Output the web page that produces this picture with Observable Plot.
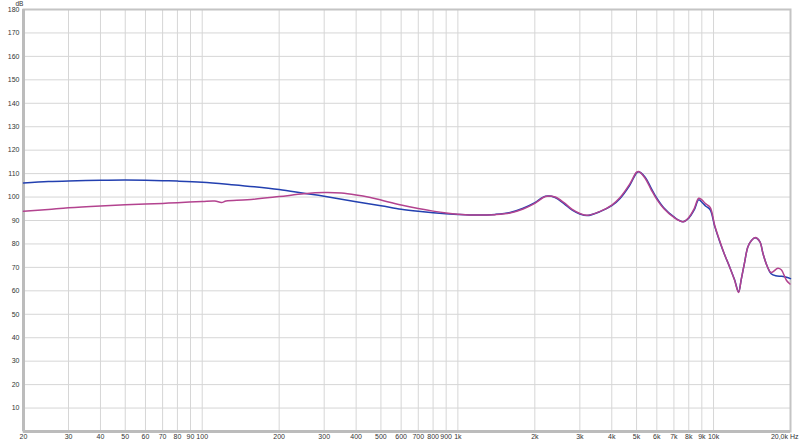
<!DOCTYPE html>
<html>
<head>
<meta charset="utf-8">
<script src="https://cdn.jsdelivr.net/npm/d3@7"></script>
<script src="https://cdn.jsdelivr.net/npm/@observablehq/plot@0.6"></script>
<style>
  html, body { margin: 0; padding: 0; background: #fff; }
  #chart svg { display: block; }
</style>
</head>
<body>
<div id="chart"></div>
<script>
// X ticks (Hz) and their labels
const xTicks = [20,30,40,50,60,70,80,90,100,200,300,400,500,600,700,800,900,1000,2000,3000,4000,5000,6000,7000,8000,9000,10000];
const xTickLabels = ["20","30","40","50","60","70","80","90","100","200","300","400","500","600","700","800","900","1k","2k","3k","4k","5k","6k","7k","8k","9k","10k"];
const xEndTick = [20000];
const xEndLabel = ["20,0k Hz"];
const yTicks = [10,20,30,40,50,60,70,80,90,100,110,120,130,140,150,160,170,180];
const yUnit = ["dB"];

// Blue series
const blueFreq = [20,25,30,40,50,60,70,80,100,130,160,200,250,300,400,500,600,700,800,1000,1200,1400,1600,1800,2000,2200,2400,2600,2800,3000,3200,3600,4000,4300,4700,5000,5100,5400,5700,6000,6400,7000,7600,8000,8400,8750,9000,9300,9700,10100,10560,11040,11550,12080,12530,12830,13200,13620,14070,14570,15170,15620,16200,16800,17500,18500,19300,20000];
const blueDb   = [106.0,106.6,106.9,107.2,107.3,107.2,107.0,106.8,106.3,105.3,104.4,103.2,101.6,100.3,98.0,96.3,94.8,93.9,93.3,92.6,92.3,92.6,93.4,95.2,97.6,100.3,99.8,97.2,94.4,92.8,92.1,93.8,96.3,99.3,105.0,110.3,110.8,108.5,103.8,99.5,95.3,91.5,89.5,91.0,94.5,98.8,97.8,96.2,94.6,87.6,81.2,75.5,70.3,64.8,59.6,64.8,71.6,78.7,81.5,82.6,81.0,75.8,70.6,67.3,66.4,66.2,65.8,65.2];

// Pink series
const pinkFreq = [20,25,30,40,50,60,70,80,100,112,119,124,150,200,250,300,350,400,450,500,600,700,800,900,1000,1200,1400,1600,1800,2000,2200,2400,2600,2800,3000,3200,3600,4000,4300,4700,5000,5100,5400,5700,6000,6400,7000,7600,8000,8400,8750,9000,9300,9700,10100,10560,11040,11550,12080,12530,12830,13200,13620,14070,14570,15170,15620,16200,16800,17850,18400,19300,19900];
const pinkDb   = [93.9,94.7,95.4,96.2,96.7,97.0,97.3,97.6,98.1,98.3,97.7,98.3,98.8,100.2,101.4,101.9,101.7,100.9,99.9,98.7,96.6,95.1,94.0,93.2,92.7,92.3,92.5,93.2,94.9,97.3,100.2,100.0,97.6,94.7,93.0,92.2,93.9,96.6,99.7,105.5,110.6,110.9,108.0,103.2,99.0,95.0,91.3,89.5,91.3,95.0,99.5,98.8,97.2,95.6,88.0,81.5,75.5,70.3,64.6,59.3,64.8,71.6,78.7,81.5,82.7,81.0,75.8,70.6,67.8,69.6,69.0,64.4,62.9];

const blue = blueFreq.map((f, i) => ({f, db: blueDb[i]}));
const pink = pinkFreq.map((f, i) => ({f, db: pinkDb[i]}));

const chart = Plot.plot({
  width: 800,
  height: 443,
  marginLeft: 23,
  marginRight: 10,
  marginTop: 9,
  marginBottom: 12,
  style: {fontFamily: "'Liberation Sans', Arial, sans-serif", fontSize: "7px", color: "#333", background: "#fff"},
  x: {type: "log", domain: [20, 20000], axis: null},
  y: {domain: [0, 180], axis: null},
  marks: [
    Plot.ruleY(yTicks, {stroke: "#d6d6d6", strokeWidth: 1}),
    Plot.ruleX(xTicks, {stroke: "#d6d6d6", strokeWidth: 1}),
    Plot.frame({stroke: "#c4c4c4", strokeWidth: 2}),
    Plot.ruleX([20], {stroke: "#bcbcbc", strokeWidth: 3}),
    Plot.ruleY([0], {stroke: "#bcbcbc", strokeWidth: 3}),
    Plot.line(blue, {x: "f", y: "db", stroke: "#2340b0", strokeWidth: 1.5, curve: "catmull-rom"}),
    Plot.line(pink, {x: "f", y: "db", stroke: "#b3438f", strokeWidth: 1.5, curve: "catmull-rom"}),
    Plot.text(xTicks, {x: d => d, frameAnchor: "bottom", text: (d, i) => xTickLabels[i], dy: 7, fill: "#333"}),
    Plot.text(xEndTick, {x: d => d, frameAnchor: "bottom", text: (d, i) => xEndLabel[i], textAnchor: "end", dx: 8, dy: 7, fill: "#333"}),
    Plot.text(yTicks, {y: d => d, frameAnchor: "left", text: d => String(d), textAnchor: "end", dx: -4, fill: "#333"}),
    Plot.text(yUnit, {frameAnchor: "top-left", text: d => d, lineAnchor: "bottom", dx: -8, dy: -4, fontSize: 6.5, fill: "#333"})
  ]
});
document.getElementById("chart").appendChild(chart);
</script>
</body>
</html>
